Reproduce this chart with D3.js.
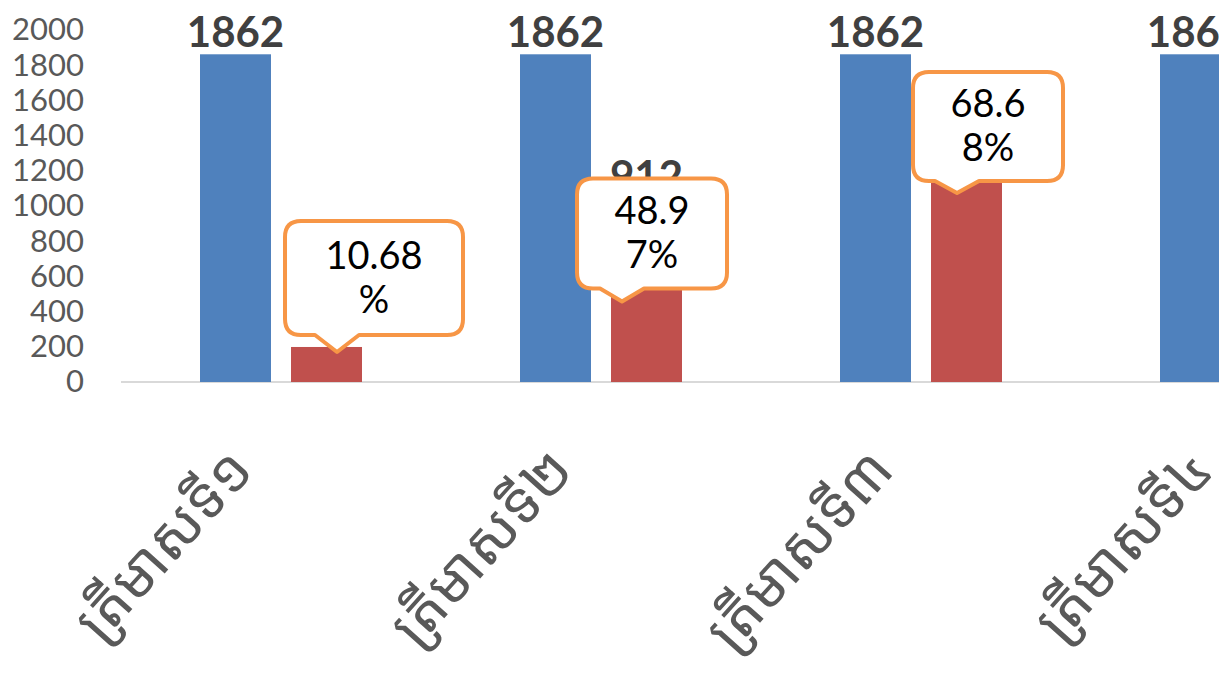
<!DOCTYPE html>
<html>
<head>
<meta charset="utf-8">
<script src="https://cdn.jsdelivr.net/npm/d3@7"></script>
<style>
  html, body { margin: 0; padding: 0; background: #fff; overflow: hidden; }
  svg { display: block; }
</style>
</head>
<body>
<div id="main"></div>
<script>
// chart values
let categories = ['ត្រីមាសទី១', 'ត្រីមាសទី២', 'ត្រីមាសទី៣', 'ត្រីមាសទី៤'];
let seriesNames = ['total', 'done'];
let totalValues = [1862, 1862, 1862, 1862];
let doneValues = [199, 912, 1279, 1862];
let percentLines = [['10.68', '%'], ['48.9', '7%'], ['68.6', '8%']];
let yTicks = [0, 200, 400, 600, 800, 1000, 1200, 1400, 1600, 1800, 2000];

// callout placement, relative to the red bar's left edge and top
let calloutBoxes = [
  {x0: -6, x1: 172, y0: -126, y1: -12, tx: 46, ty: 5},
  {x0: -34, x1: 116, y0: -43, y1: 67, tx: 11, ty: 80},
  {x0: -18, x1: 132, y0: -85, y1: 24, tx: 26, ty: 36}
];

function draw() {
  let width = 1219;
  let height = 675;
  let colors = {total: '#4F81BD', done: '#C0504D'};

  let svg = d3.select('#main').append('svg')
    .attr('width', width).attr('height', height);
  svg.append('rect').attr('width', width).attr('height', height).attr('fill', '#fff');

  let y = d3.scaleLinear().domain([0, 2000]).range([382, 30]);
  let x0 = d3.scaleBand().domain(categories).range([121, 1401]);
  let x1 = d3.scaleBand().domain(seriesNames).range([79, 241]).paddingInner(0.22);

  // y tick labels only
  let yAxis = svg.append('g').attr('transform', 'translate(84,0)')
    .call(d3.axisLeft(y).tickValues(yTicks).tickFormat(d3.format('d')).tickSize(0).tickPadding(0));
  yAxis.select('.domain').remove();
  yAxis.selectAll('text')
    .attr('fill', '#595959')
    .style('font-family', 'Lato, "Open Sans", sans-serif')
    .style('font-size', '31px');

  // category axis line
  svg.append('line')
    .attr('x1', 121).attr('x2', width)
    .attr('y1', y(0)).attr('y2', y(0))
    .attr('stroke', '#d9d9d9').attr('stroke-width', 2);

  let rows = categories.map((c, i) => ({cat: c, total: totalValues[i], done: doneValues[i], i: i}));

  let groups = svg.selectAll('g.cat').data(rows).enter().append('g')
    .attr('class', 'cat')
    .attr('transform', d => 'translate(' + x0(d.cat) + ',0)');

  seriesNames.forEach(s => {
    groups.append('rect')
      .attr('x', x1(s))
      .attr('y', d => y(d[s]))
      .attr('width', x1.bandwidth())
      .attr('height', d => y(0) - y(d[s]))
      .attr('fill', colors[s]);
  });

  // value labels
  groups.append('text')
    .attr('x', x1('total') + x1.bandwidth() / 2)
    .attr('y', d => y(d.total) - 7)
    .attr('text-anchor', 'middle')
    .attr('fill', '#404040')
    .style('font-family', 'Lato, sans-serif')
    .style('font-weight', 'bold')
    .style('font-size', '42px')
    .text(d => d.total);
  groups.append('text')
    .attr('x', x1('done') + x1.bandwidth() / 2)
    .attr('y', d => y(d.done) - 30)
    .attr('text-anchor', 'middle')
    .attr('fill', '#404040')
    .style('font-family', 'Lato, sans-serif')
    .style('font-weight', 'bold')
    .style('font-size', '42px')
    .text(d => d.done);

  // rotated category labels
  groups.append('text')
    .attr('transform', 'translate(' + (x1('total') + 56) + ',472) rotate(-48)')
    .attr('text-anchor', 'end')
    .attr('fill', '#595959')
    .style('font-family', '"Noto Sans Khmer", "Khmer OS", "Noto Sans", sans-serif')
    .style('font-size', '58px')
    .text(d => d.cat);

  // percentage callouts
  function calloutPath(b, rx, ry) {
    let r = 16;
    let l = rx + b.x0, rt = rx + b.x1, t = ry + b.y0, bt = ry + b.y1;
    let tipX = rx + b.tx, tipY = ry + b.ty;
    let p = d3.path();
    p.moveTo(l + r, t);
    p.lineTo(rt - r, t);
    p.quadraticCurveTo(rt, t, rt, t + r);
    p.lineTo(rt, bt - r);
    p.quadraticCurveTo(rt, bt, rt - r, bt);
    p.lineTo(tipX + 22, bt);
    p.lineTo(tipX, tipY);
    p.lineTo(tipX - 22, bt);
    p.lineTo(l + r, bt);
    p.quadraticCurveTo(l, bt, l, bt - r);
    p.lineTo(l, t + r);
    p.quadraticCurveTo(l, t, l + r, t);
    p.closePath();
    return p.toString();
  }

  let callouts = svg.selectAll('g.callout').data(percentLines).enter().append('g')
    .attr('class', 'callout');
  callouts.each(function(lines, i) {
    let g = d3.select(this);
    let b = calloutBoxes[i];
    let rx = x0(categories[i]) + x1('done');
    let ry = y(doneValues[i]);
    g.append('path')
      .attr('d', calloutPath(b, rx, ry))
      .attr('fill', '#fff')
      .attr('stroke', '#F79646')
      .attr('stroke-width', 4)
      .attr('stroke-linejoin', 'round');
    let cx = rx + (b.x0 + b.x1) / 2;
    let cy = ry + (b.y0 + b.y1) / 2;
    let lh = 44;
    g.selectAll('text').data(lines).enter().append('text')
      .attr('x', cx)
      .attr('y', (d, k) => cy + 13 + (k - (lines.length - 1) / 2) * lh)
      .attr('text-anchor', 'middle')
      .attr('fill', '#000')
      .style('font-family', 'Lato, sans-serif')
      .style('font-size', '38px')
      .text(d => d);
  });
}
draw();
</script>
</body>
</html>
